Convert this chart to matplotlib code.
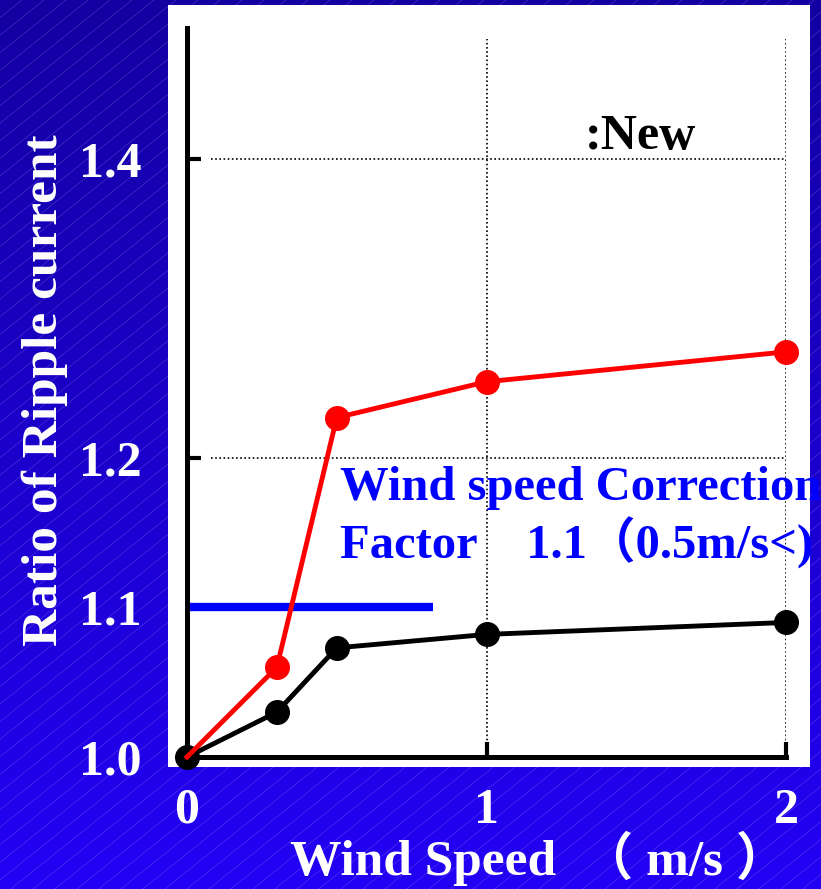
import numpy as np
import matplotlib
matplotlib.use("Agg")
import matplotlib.pyplot as plt
from matplotlib.patches import Rectangle

plt.rcParams['font.family'] = ['Liberation Serif', 'Noto Sans CJK JP']
plt.rcParams['font.weight'] = 'bold'

# data
wind = [0, 0.3, 0.5, 1, 2]
ratio_new = [1.0, 1.060, 1.227, 1.251, 1.271]
ratio_old = [1.0, 1.030, 1.073, 1.082, 1.090]
corr_x = [0, 0.82]
corr_y = [1.1, 1.1]
yticks = [1.0, 1.1, 1.2, 1.4]
yticklabels = ["1.0", "1.1", "1.2", "1.4"]
xticks = [0, 1, 2]
xticklabels = ["0", "1", "2"]
grid_y = [1.2, 1.4]
grid_x = [1, 2]

W, H = 821, 889
fig = plt.figure(figsize=(W / 100, H / 100), dpi=100)

# background: blue gradient with faint diagonal lines
bg = fig.add_axes([0, 0, 1, 1], zorder=-10)
bg.set_xlim(0, W)
bg.set_ylim(H, 0)
bg.axis('off')
top = np.array([0x13, 0x00, 0xa2]) / 255.
bot = np.array([0x23, 0x00, 0xf4]) / 255.
t = np.linspace(0, 1, 256)[:, None, None]
grad = top * (1 - t) + bot * t
grad = np.repeat(grad, 2, axis=1)
bg.imshow(grad, extent=(0, W, H, 0), aspect='auto', interpolation='bilinear')
for x0 in np.arange(-H * 1.25, W + 22, 22):
    bg.plot([x0, x0 + H * 1.25], [H, 0], color='white', alpha=0.16, lw=0.6)
panel = Rectangle((168, 5), 642, 762, facecolor='white', edgecolor='none')
bg.add_patch(panel)

# main axes
ax = fig.add_axes([187 / W, 1 - 757 / H, 599 / W, 729 / H])
ax.set_facecolor('none')
ax.set_xlim(0, 2)
ax.set_ylim(1.0, 1 + 729 / 1495)
for s in ['top', 'right']:
    ax.spines[s].set_visible(False)
for s in ['left', 'bottom']:
    ax.spines[s].set_linewidth(3.6)
    ax.spines[s].set_color('black')

ax.hlines(grid_y, 0.08, 2, colors='black', linestyles=(0, (1, 1.5)), lw=1.2, zorder=1)
ax.vlines(grid_x, 1.0, 1.48, colors='black', linestyles=(0, (1, 1.5)), lw=1.2, zorder=1)

ax.plot(corr_x, corr_y, color='#0000ff', lw=6, solid_capstyle='butt', zorder=2)
ax.plot(wind, ratio_old, color='black', lw=3.5, marker='o', ms=17, clip_on=False, zorder=3)
ax.plot(wind, ratio_new, color='#ff0000', lw=3.5, marker='o', ms=17,
        markevery=slice(1, None), clip_on=False, zorder=4)

ax.set_yticks(yticks)
ax.set_yticklabels(yticklabels)
ax.set_xticks(xticks)
ax.set_xticklabels(xticklabels)
ax.tick_params(axis='y', direction='in', length=10, width=3, pad=33,
               labelsize=36, labelcolor='white')
ax.tick_params(axis='x', direction='in', length=11, width=3, pad=22,
               labelsize=36, labelcolor='white')
for lab in ax.get_xticklabels() + ax.get_yticklabels():
    lab.set_fontweight('bold')

ax.text(1.33, 1.407, ":New", fontsize=36, fontweight='bold', color='black')

for line, yy in [("Wind speed Correction", 1.172), ("Factor\u30001.1\uff080.5m/s<)", 1.133)]:
    tx = ax.text(0.51, yy, line, fontsize=35, fontweight='bold', color='#0000ff')
    tx.set_clip_path(panel)

fig.text(45 / W, 1 - 390 / H, "Ratio of Ripple current", rotation=90, ha='center',
         va='center', fontsize=37, fontweight='bold', color='white')
fig.text(290 / W, 1 - 858 / H, "Wind Speed  \uff08 m/s \uff09", ha='left',
         va='center', fontsize=37, fontweight='bold', color='white')

fig.savefig('out.png', dpi=100)
